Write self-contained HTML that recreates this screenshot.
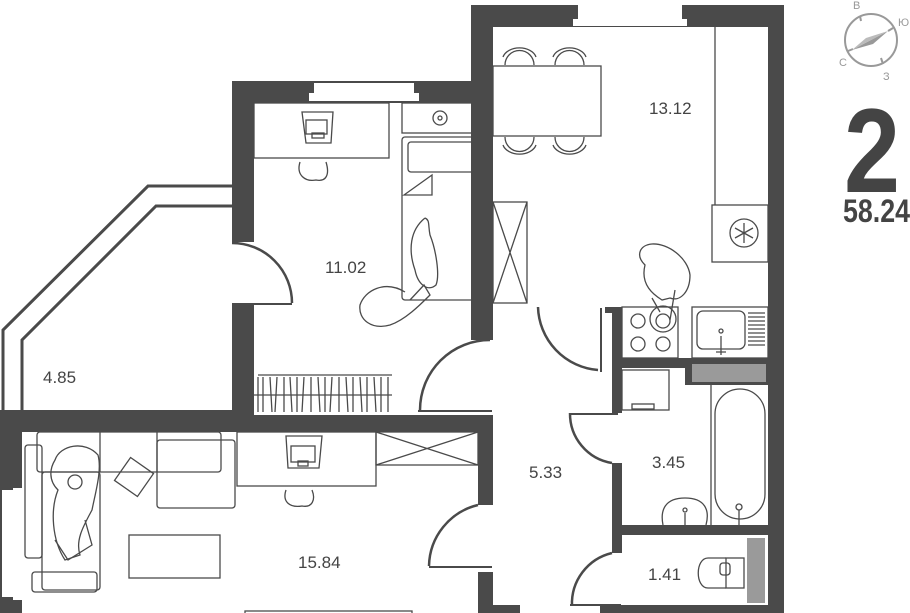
<!DOCTYPE html>
<html><head><meta charset="utf-8"><style>
html,body{margin:0;padding:0;background:#fff;}
svg{display:block;}
text{font-family:"Liberation Sans","DejaVu Sans",sans-serif;fill:#444;}
</style></head><body>
<svg width="910" height="613" viewBox="0 0 910 613" xmlns="http://www.w3.org/2000/svg">
<g fill="#4a4a4a">
<rect x="471" y="5" width="313" height="22"/>
<rect x="471" y="5" width="22" height="335"/>
<rect x="768" y="5" width="16" height="608"/>
<rect x="232" y="81" width="260" height="22"/>
<rect x="232" y="81" width="22" height="161"/>
<rect x="232" y="305" width="22" height="110"/>
<rect x="0" y="410" width="254" height="22"/>
<rect x="254" y="415" width="239" height="17"/>
<rect x="0" y="410" width="22" height="203"/>
<rect x="478" y="425" width="15" height="80"/>
<rect x="478" y="572" width="15" height="41"/>
<rect x="478" y="605" width="42" height="8"/>
<rect x="605" y="307" width="17" height="6"/>
<rect x="612" y="307" width="10" height="106"/>
<rect x="612" y="463" width="10" height="90"/>
<rect x="612" y="358" width="73" height="10"/>
<rect x="685" y="358" width="83" height="27"/>
<rect x="612" y="525" width="156" height="10"/>
<rect x="600" y="605" width="184" height="8"/>
</g>
<rect x="578" y="5" width="104" height="14" fill="#fff"/>
<rect x="573" y="19" width="114" height="7" fill="#fff"/>
<rect x="314" y="83" width="100" height="10" fill="#fff"/>
<rect x="309" y="93" width="110" height="8" fill="#fff"/>
<rect x="2" y="490" width="11" height="107" fill="#fff"/>
<rect x="13" y="488" width="9" height="112" fill="#fff"/>
<rect x="692" y="364" width="74" height="18" fill="#9a9a9a"/>
<rect x="747" y="538" width="18" height="65" fill="#9a9a9a"/>

<g fill="none" stroke="#4a4a4a" stroke-width="1.3">
<polyline points="3,410 3,330 148,186 232,186" stroke-width="3"/>
<polyline points="22,410 22,340 156,206 232,206" stroke-width="3"/>
<path d="M232,243 A60,60 0 0 1 292,303" stroke-width="2.5"/>
<line x1="232" y1="304" x2="292" y2="304" stroke-width="2"/>
<path d="M420,410 A70,70 0 0 1 490,340" stroke-width="2.5"/>
<line x1="418" y1="411" x2="492" y2="411" stroke-width="2"/>
<path d="M538,307 A65,65 0 0 0 598,370" stroke-width="2.5"/>
<line x1="601" y1="308" x2="601" y2="372" stroke-width="2"/>
<path d="M570,413 A50,50 0 0 0 612,463" stroke-width="2.5"/>
<line x1="570" y1="414" x2="618" y2="414" stroke-width="2"/>
<path d="M429,566 A64,64 0 0 1 478,505" stroke-width="2.5"/>
<line x1="429" y1="567" x2="492" y2="567" stroke-width="2"/>
<path d="M572,606 A52,52 0 0 1 612,553" stroke-width="2.5"/>
<line x1="570" y1="605" x2="621" y2="605" stroke-width="2"/>

<rect x="493" y="66" width="108" height="70"/>
<path d="M505,65 A12,12 0 0 1 534,65 M503,57 A17,12 0 0 1 536,57"/>
<path d="M555,65 A12,12 0 0 1 584,65 M553,57 A17,12 0 0 1 586,57"/>
<path d="M505,137 A12,12 0 0 0 534,137 M503,145 A17,12 0 0 0 536,145"/>
<path d="M555,137 A12,12 0 0 0 584,137 M553,145 A17,12 0 0 0 586,145"/>
<line x1="715" y1="27" x2="715" y2="205"/>
<rect x="712" y="205" width="56" height="57"/>
<circle cx="744" cy="233" r="14"/>
<path d="M744,223 V243 M735,228 L753,238 M735,238 L753,228"/>
<rect x="493" y="202" width="34" height="101"/>
<path d="M493,202 L527,303 M527,202 L493,303"/>
<rect x="622" y="307" width="56" height="51"/>
<circle cx="638" cy="321" r="7"/><circle cx="663" cy="321" r="7"/>
<circle cx="638" cy="344" r="7"/><circle cx="663" cy="344" r="7"/>
<circle cx="663" cy="319" r="13"/>
<rect x="692" y="307" width="76" height="51"/>
<rect x="697" y="311" width="48" height="38" rx="6"/>
<path d="M748,313 H765 M748,317 H765 M748,321 H765 M748,325 H765 M748,329 H765 M748,333 H765 M748,337 H765 M748,341 H765 M748,345 H765"/>
<circle cx="721" cy="331" r="2"/><path d="M721,336 V355 M716,352 H726"/>
<path d="M645,265 C635,255 640,245 652,244 C668,243 688,258 690,275 C690,292 680,302 670,298 L662,300 C654,295 640,285 645,265 Z"/>
<path d="M652,298 L660,312 M675,290 L670,320"/>

<rect x="254" y="103" width="135" height="55"/>
<path d="M302,112 L333,112 L331,143 L306,143 Z"/>
<rect x="306" y="120" width="21" height="14"/>
<rect x="312" y="133" width="12" height="5"/>
<path d="M300,162 C296,175 305,182 316,180 C326,182 330,175 326,162"/>
<rect x="402" y="103" width="76" height="30"/>
<circle cx="440" cy="118" r="7"/><circle cx="440" cy="118" r="2"/>
<rect x="402" y="137" width="76" height="163" rx="3"/>
<rect x="408" y="142" width="66" height="30" rx="3"/>
<path d="M404,195 L432,175 L432,195 Z"/>
<path d="M425,218 C410,230 408,250 415,270 C418,285 428,292 436,285 C440,275 436,250 430,235 C428,225 430,220 425,218"/>
<path d="M405,292 C385,280 365,290 360,305 C358,320 372,330 390,325 C405,320 420,305 430,295 L424,285 L410,300"/>
<path d="M258,375 H392 M254,395 H392"/>
<path d="M258,377 V412 M263,377 V412 M270,377 L272,412 M277,377 L275,412 M284,377 V412 M290,377 L292,412 M297,377 V412 M304,377 L302,412 M311,377 V412 M318,377 L320,412 M325,377 V412 M332,377 L330,412 M339,377 V412 M346,377 L348,412 M353,377 V412 M360,377 L362,412 M367,377 V412 M374,377 L376,412 M381,377 V412 M388,377 V412"/>

<rect x="37" y="432" width="184" height="40" rx="3"/>
<line x1="100" y1="432" x2="100" y2="472"/><line x1="157" y1="432" x2="157" y2="472"/>
<rect x="25" y="445" width="17" height="113" rx="3"/>
<rect x="42" y="472" width="58" height="118" rx="3"/>
<rect x="32" y="572" width="65" height="20" rx="3"/>
<rect x="157" y="440" width="78" height="68" rx="3"/>
<rect x="120" y="463" width="28" height="28" transform="rotate(35 134 477)"/>
<path d="M55,460 C60,445 85,440 98,455 C102,470 96,490 92,510 C84,525 75,540 80,555 L65,560 C52,540 50,510 58,490 C48,480 50,468 55,460 Z"/>
<circle cx="75" cy="482" r="7"/>
<path d="M55,540 L68,560 L92,545 L85,520"/>
<rect x="129" y="535" width="91" height="43"/>
<rect x="237" y="432" width="139" height="54"/>
<path d="M286,436 L322,436 L319,468 L288,468 Z"/>
<rect x="291" y="446" width="24" height="16"/>
<rect x="298" y="461" width="10" height="5"/>
<path d="M286,490 C282,502 290,508 302,506 C312,508 316,500 312,490"/>
<rect x="376" y="432" width="102" height="33"/>
<path d="M376,432 L478,465 M478,432 L376,465"/>
<rect x="245" y="611" width="167" height="6"/>

<rect x="622" y="370" width="47" height="40"/>
<rect x="632" y="404" width="22" height="5"/>
<line x1="711" y1="385" x2="711" y2="525"/>
<rect x="715" y="389" width="50" height="130" rx="25"/>
<circle cx="739" cy="507" r="3"/><path d="M739,510 V525"/>
<path d="M663,525 C660,510 665,498 685,498 C705,498 710,510 706,525"/>
<circle cx="685" cy="510" r="2"/><path d="M685,513 V525"/>
<rect x="726" y="558" width="18" height="30"/>
<path d="M726,558 H708 C695,558 695,588 708,588 H726"/>
<rect x="720" y="563" width="10" height="12" rx="3"/>
</g>

<g fill="none" stroke="#999" stroke-width="2">
<circle cx="871" cy="40" r="26"/>
<path d="M860,16 L861,21 M893,28 L888,31 M848,51 L853,49 M883,64 L881,58"/>
</g>
<polygon points="852,50 888,31 873,44" fill="#999"/>
<polygon points="852,50 888,31 866,38" fill="#bbb"/>
<text x="853" y="9" font-size="11" style="fill:#999">В</text>
<text x="898" y="26" font-size="11" style="fill:#999">Ю</text>
<text x="839" y="66" font-size="11" style="fill:#999">С</text>
<text x="883" y="80" font-size="11" style="fill:#999">З</text>

<text x="844" y="192" font-size="120" font-weight="bold" textLength="56" lengthAdjust="spacingAndGlyphs">2</text>
<text x="843" y="222" font-size="32" font-weight="bold" textLength="67" lengthAdjust="spacingAndGlyphs">58.24</text>

<g font-size="17">
<text x="649" y="114">13.12</text>
<text x="325" y="273">11.02</text>
<text x="43" y="383">4.85</text>
<text x="298" y="568">15.84</text>
<text x="529" y="478">5.33</text>
<text x="652" y="468">3.45</text>
<text x="648" y="580">1.41</text>
</g>
</svg>
</body></html>
